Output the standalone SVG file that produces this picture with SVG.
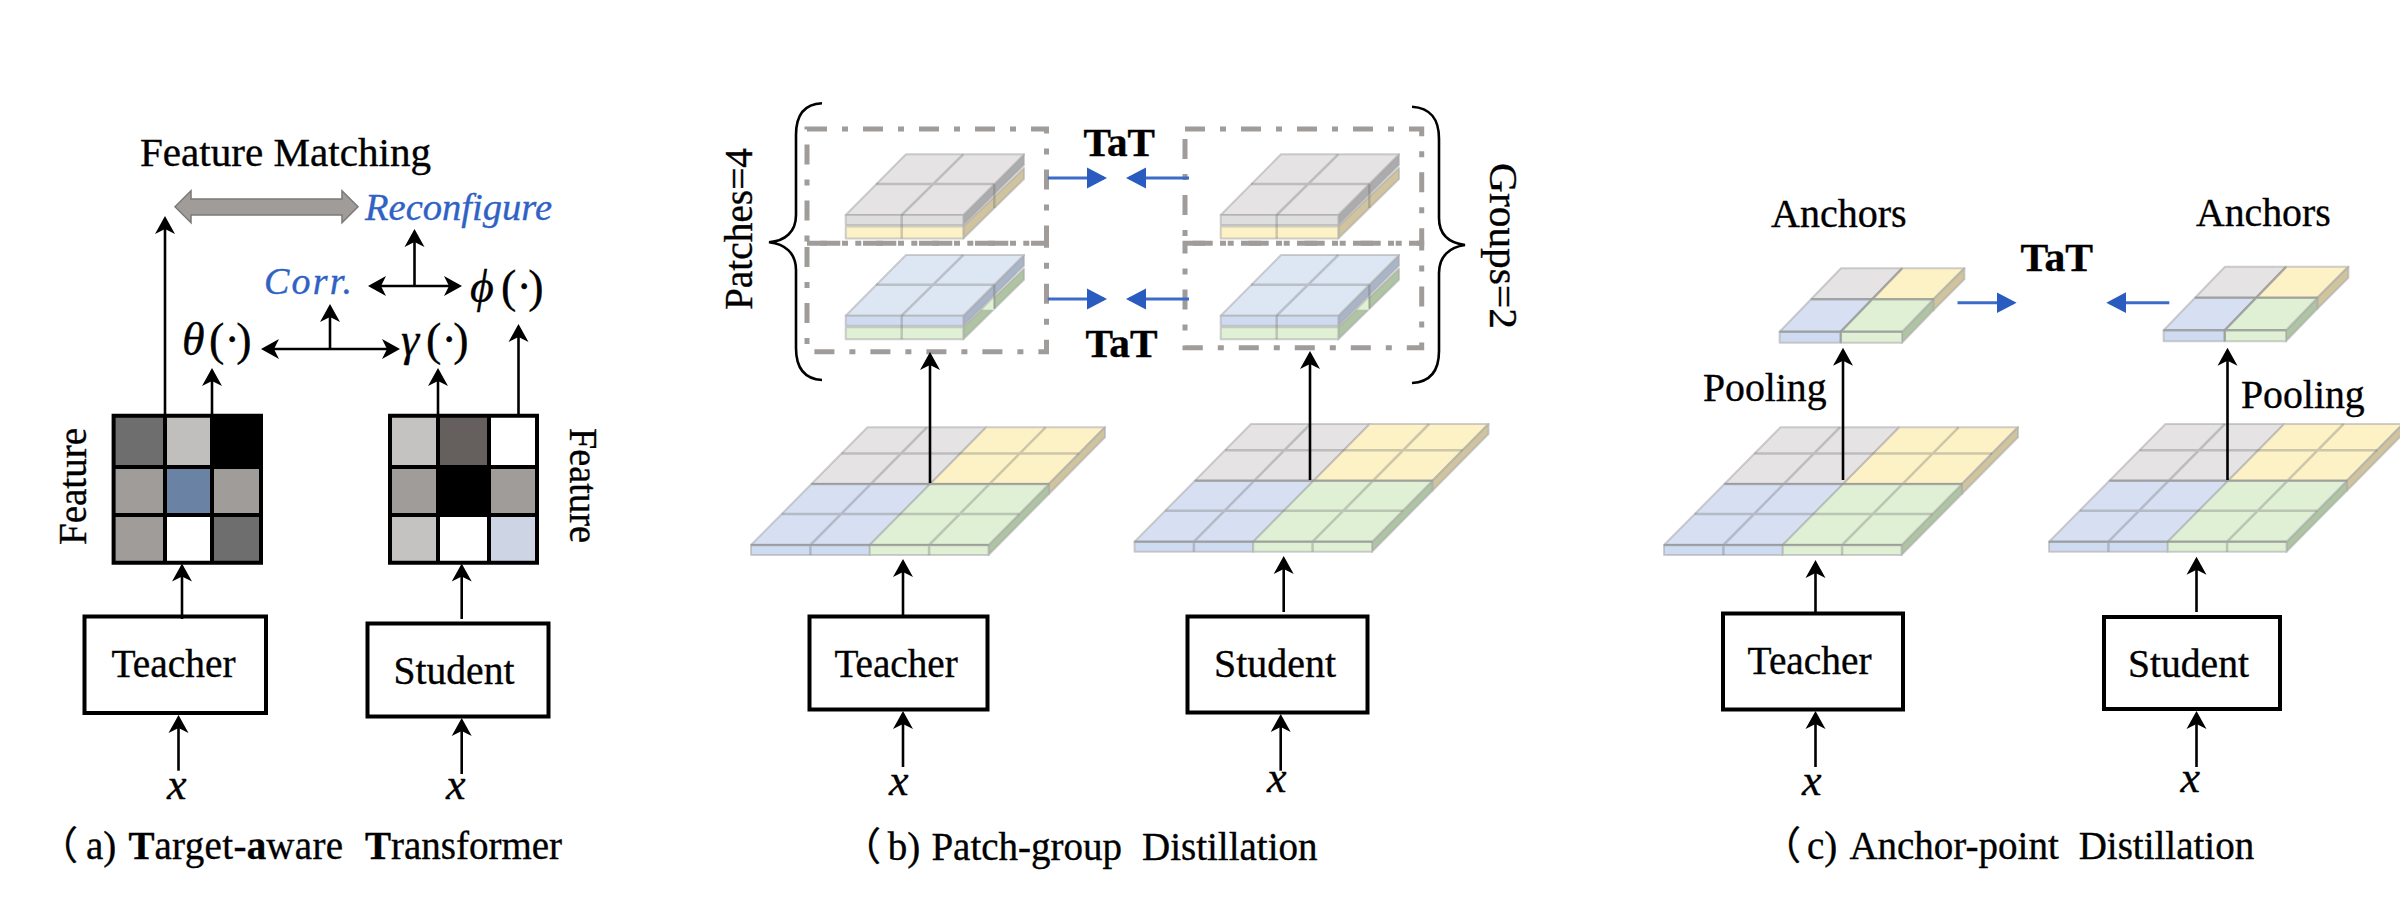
<svg xmlns="http://www.w3.org/2000/svg" width="2400" height="910" viewBox="0 0 2400 910">
<style>
text{font-family:"Liberation Serif","Noto Sans CJK SC",serif;fill:#000;font-size:39px;stroke:#000;stroke-width:.35}
.i{font-style:italic}
.x{font-style:italic;font-size:44px}
.m{font-size:46px}
.b{font-weight:bold}
.blue{fill:#2F62C4;stroke:#2F62C4;font-style:italic;font-size:38px}
.ls3{letter-spacing:.35px}
.box{fill:#fff;stroke:#000;stroke-width:4}
.ln{fill:none;stroke:#000;stroke-width:2.6}
.bl{fill:none;stroke:#3D6CC8;stroke-width:3}
.brace{fill:none;stroke:#000;stroke-width:2.6}
.dash{fill:none;stroke:#A09C9A;stroke-width:5;stroke-dasharray:20 15 6 15}
.f{stroke:#A8A8A8;stroke-opacity:.55;stroke-width:2;stroke-linejoin:round}
.g{fill:none;stroke:#6E6E6E;stroke-opacity:.32;stroke-width:2.5}
.gt{fill:#E5E3E3}.yt{fill:#FDF1C6}.bt{fill:#D6E0F2}.lt{fill:#DFF0D5}.ct{fill:#DDE7F4}
.gf{fill:#DEDEDE}.yf{fill:#FDF1C6}.bf{fill:#CFDBF0}.lf{fill:#DFF0D5}
.gs{fill:#ACACAE}.ys{fill:#CFC49E}.bs{fill:#A9B5C8}.ls{fill:#AEC4A3}
</style>
<defs>
<marker id="ah" markerUnits="userSpaceOnUse" markerWidth="24" markerHeight="24" viewBox="0 -12 24 24" refX="15" refY="0" orient="auto-start-reverse"><path d="M18,0 L0,-10 L5,0 L0,10 Z" fill="#000"/></marker>
<marker id="bh" markerUnits="userSpaceOnUse" markerWidth="24" markerHeight="26" viewBox="0 -13 24 26" refX="17" refY="0" orient="auto"><path d="M20,0 L0,-10.5 L0,10.5 Z" fill="#2A5BBF"/></marker>
<g id="plate">
<polygon class="gt f" points="811.4,484 930.2,484 986.25,427.3 867.5,427.3"/>
<polygon class="yt f" points="930.2,484 1048.9,484 1105,427.3 986.25,427.3"/>
<polygon class="ys f" points="1048.9,484 1105,427.3 1105,437.3 1048.9,494"/>
<polygon class="ls f" points="988.5,545 1048.9,484 1048.9,494 988.5,555"/>
<polygon class="bt f" points="751,545 869.75,545 930.15,484 811.4,484"/>
<polygon class="lt f" points="869.75,545 988.5,545 1048.9,484 930.15,484"/>
<rect class="bf f" x="751" y="545" width="118.75" height="10"/>
<rect class="lf f" x="869.75" y="545" width="118.75" height="10"/>
<path class="g" d="M781.7,514H1019.2M841.6,453.5H1079.1M811.4,484H1048.9M810.4,545L926.9,427.3M929.1,545L1045.6,427.3M810.4,545V555M929.1,545V555M751,545H988.5"/>
</g>
<g id="anchor">
<polygon class="gt f" points="1811,299.3 1872.2,299.3 1902.2,268.3 1841,268.3"/>
<polygon class="yt f" points="1872.2,299.3 1933.4,299.3 1964.4,268.3 1902.2,268.3"/>
<polygon class="ys f" points="1933.4,299.3 1964.4,268.3 1964.4,279.3 1933.4,310.3"/>
<polygon class="ls f" points="1902,331.7 1933.4,299.3 1933.4,310.3 1902,342.7"/>
<polygon class="bt f" points="1779.6,331.7 1840.8,331.7 1872.2,299.3 1811,299.3"/>
<polygon class="lt f" points="1840.8,331.7 1902,331.7 1933.4,299.3 1872.2,299.3"/>
<rect class="bf f" x="1779.6" y="331.7" width="61.2" height="11"/>
<rect class="lf f" x="1840.8" y="331.7" width="61.2" height="11"/>
<path class="g" d="M1811,299.3H1933.4M1779.6,331.7H1902M1840.8,331.7L1902.2,268.3M1840.8,331.7V342.7"/>
</g>
<g id="stackgy">
<polygon class="ys f" points="963.3,226.5 1024,168 1024,179 963.3,238.5"/>
<rect class="yf f" x="845.7" y="226.5" width="117.6" height="12"/>
<polygon class="gs f" points="963.3,215 1024,154.3 1024,165 963.3,225"/>
<polygon class="gt f" points="906,154.3 1024,154.3 963.3,215 845.7,215"/>
<rect class="gf f" x="845.7" y="215" width="117.6" height="10"/>
<path class="g" d="M876,184H994.3M901.7,215L963.3,154.3M901.7,215V238.5M994.3,184V208"/>
</g>
<g id="stackbg">
<polygon class="ls f" points="963.3,226.5 1024,168 1024,179 963.3,238.5"/>
<polygon class="lf" points="982,209 994,197 994,209"/>
<rect class="lf f" x="845.7" y="226.5" width="117.6" height="12"/>
<polygon class="bs f" points="963.3,215 1024,154.3 1024,165 963.3,225"/>
<polygon class="ct f" points="906,154.3 1024,154.3 963.3,215 845.7,215"/>
<rect class="bf f" x="845.7" y="215" width="117.6" height="10"/>
<path class="g" d="M876,184H994.3M901.7,215L963.3,154.3M901.7,215V238.5M994.3,184V208"/>
</g>
</defs>
<rect width="2400" height="910" fill="#fff"/>

<g id="panel-a">
<g id="a-title"><text x="140" y="165.7" textLength="291" lengthAdjust="spacingAndGlyphs">Feature Matching</text></g>
<g id="a-match"><path d="M175,206.7L191,190.7V199H342V190.7L358,206.7L342,222.7V215H191V222.7Z" fill="#A09C9A" stroke="#7C7877" stroke-width="1.5"/></g>
<g id="a-reconfigure"><text class="blue" x="365" y="220" textLength="187" lengthAdjust="spacingAndGlyphs">Reconfigure</text></g>
<g id="a-corr"><text class="blue" x="264" y="294" textLength="88">Corr.</text></g>
<g id="a-theta"><text class="m" y="355"><tspan class="i" x="182">θ</tspan><tspan x="209">(</tspan><tspan x="224.5">·</tspan><tspan x="236.2">)</tspan></text></g>
<g id="a-gamma"><text class="m" y="355"><tspan class="i" x="401">γ</tspan><tspan x="426">(</tspan><tspan x="441.5">·</tspan><tspan x="453.2">)</tspan></text></g>
<g id="a-phi"><text class="m" y="302"><tspan class="i" x="470">ϕ</tspan><tspan x="501">(</tspan><tspan x="516.5">·</tspan><tspan x="528.2">)</tspan></text></g>
<g id="a-feature-t">
<rect x="113.6" y="415.7" width="51.4" height="51.3" fill="#6E6E6E"/><rect x="165" y="415.7" width="47" height="51.3" fill="#C0BFBD"/><rect x="212" y="415.7" width="49" height="51.3" fill="#000"/>
<rect x="113.6" y="467" width="51.4" height="48" fill="#A09C9A"/><rect x="165" y="467" width="47" height="48" fill="#6A83A4"/><rect x="212" y="467" width="49" height="48" fill="#A09C9A"/>
<rect x="113.6" y="515" width="51.4" height="47.7" fill="#A09C9A"/><rect x="165" y="515" width="47" height="47.7" fill="#fff"/><rect x="212" y="515" width="49" height="47.7" fill="#6E6E6E"/>
<path fill="none" stroke="#000" stroke-width="4" d="M113.6,415.7H261V562.7H113.6ZM165,415.7V562.7M212,415.7V562.7M113.6,467H261M113.6,515H261"/>
<text transform="translate(86,545) rotate(-90)" textLength="117" lengthAdjust="spacingAndGlyphs">Feature</text>
</g>
<g id="a-feature-s">
<rect x="390" y="415.7" width="48" height="51.3" fill="#C4C3C1"/><rect x="438" y="415.7" width="51" height="51.3" fill="#655F5E"/><rect x="489" y="415.7" width="48" height="51.3" fill="#fff"/>
<rect x="390" y="467" width="48" height="48" fill="#A09C9A"/><rect x="438" y="467" width="51" height="48" fill="#000"/><rect x="489" y="467" width="48" height="48" fill="#A09C9A"/>
<rect x="390" y="515" width="48" height="47.7" fill="#C4C3C1"/><rect x="438" y="515" width="51" height="47.7" fill="#fff"/><rect x="489" y="515" width="48" height="47.7" fill="#CDD5E4"/>
<path fill="none" stroke="#000" stroke-width="4" d="M390,415.7H537V562.7H390ZM438,415.7V562.7M489,415.7V562.7M390,467H537M390,515H537"/>
<text transform="translate(570,428) rotate(90)" textLength="115" lengthAdjust="spacingAndGlyphs">Feature</text>
</g>
<g id="a-teacher"><rect class="box" x="84.5" y="616.5" width="181.5" height="96.5"/><text x="111.5" y="676.7" textLength="124" lengthAdjust="spacingAndGlyphs">Teacher</text></g>
<g id="a-student"><rect class="box" x="367.5" y="623.5" width="181" height="93"/><text x="393.5" y="684" textLength="121" lengthAdjust="spacingAndGlyphs">Student</text></g>
<g id="a-x-t"><text class="x" x="167" y="799">x</text></g>
<g id="a-x-s"><text class="x" x="446" y="799">x</text></g>
<g id="a-caption"><text y="859"><tspan x="39">（</tspan><tspan x="86">a)</tspan><tspan x="128.4" class="b">T</tspan><tspan class="ls3">arget-</tspan><tspan class="b">a</tspan><tspan class="ls3">ware</tspan><tspan x="365" class="b">T</tspan><tspan>ransformer</tspan></text></g>
</g>

<g id="panel-b">
<g id="b-groups">
<rect class="dash" x="807" y="129" width="239.5" height="114.3"/>
<rect class="dash" x="807" y="243.3" width="239.5" height="108.4"/>
<rect class="dash" x="1185" y="129" width="236.7" height="114.3"/>
<rect class="dash" x="1185" y="243.3" width="236.7" height="104.4"/>
</g>
<g id="b-stack-t1"><use href="#stackgy"/></g>
<g id="b-stack-t2"><use href="#stackbg" transform="translate(0,100.7)"/></g>
<g id="b-stack-s1"><use href="#stackgy" transform="translate(375,0)"/></g>
<g id="b-stack-s2"><use href="#stackbg" transform="translate(375,100.7)"/></g>
<g id="b-brace-l"><path class="brace" d="M822,103.3C805,104 796,114 796,135V215C796,232 785,241 769,242.3C785,244 796,253 796,270V348C796,369 805,379 822,380"/></g>
<g id="b-brace-r"><path class="brace" d="M1412,106.7C1430,108 1439,118 1439,139V218C1439,235 1450,243 1465,245C1450,247 1439,256 1439,273V351C1439,372 1430,382 1412,383"/></g>
<g id="b-patches"><text transform="translate(752,310) rotate(-90)" textLength="162" lengthAdjust="spacingAndGlyphs">Patches=4</text></g>
<g id="b-groups-label"><text transform="translate(1490,163) rotate(90)" textLength="166" lengthAdjust="spacingAndGlyphs">Groups=2</text></g>
<g id="b-tat1"><text class="b" x="1083.4" y="155.7" textLength="71.6" lengthAdjust="spacingAndGlyphs">TaT</text></g>
<g id="b-tat2"><text class="b" x="1085.5" y="357" textLength="72" lengthAdjust="spacingAndGlyphs">TaT</text></g>
<g id="b-plate-t"><use href="#plate"/></g>
<g id="b-plate-s"><use href="#plate" transform="translate(383.5,-3.3)"/></g>
<g id="b-teacher"><rect class="box" x="809.5" y="616.5" width="178" height="93"/><text x="834.4" y="676.7" textLength="123.4" lengthAdjust="spacingAndGlyphs">Teacher</text></g>
<g id="b-student"><rect class="box" x="1187.5" y="616.5" width="180" height="96"/><text x="1214" y="676.7" textLength="122" lengthAdjust="spacingAndGlyphs">Student</text></g>
<g id="b-x-t"><text class="x" x="889" y="795">x</text></g>
<g id="b-x-s"><text class="x" x="1267" y="792">x</text></g>
<g id="b-caption"><text y="860"><tspan x="842">（</tspan><tspan x="887.7">b)</tspan><tspan x="931.4">Patch-group</tspan><tspan x="1142">Distillation</tspan></text></g>
</g>

<g id="panel-c">
<g id="c-plate-t"><use href="#plate" transform="translate(913,0)"/></g>
<g id="c-plate-s"><use href="#plate" transform="translate(1298,-3.3)"/></g>
<g id="c-anchor-t"><use href="#anchor"/></g>
<g id="c-anchor-s"><use href="#anchor" transform="translate(384,-1.5)"/></g>
<g id="c-anchors-t"><text x="1771" y="226.7" textLength="135.6" lengthAdjust="spacingAndGlyphs">Anchors</text></g>
<g id="c-anchors-s"><text x="2196" y="226" textLength="134.7" lengthAdjust="spacingAndGlyphs">Anchors</text></g>
<g id="c-tat"><text class="b" x="2020.5" y="270.7" textLength="72.5" lengthAdjust="spacingAndGlyphs">TaT</text></g>
<g id="c-pool-t"><text x="1703" y="401" textLength="123.6" lengthAdjust="spacingAndGlyphs">Pooling</text></g>
<g id="c-pool-s"><text x="2241" y="407.7" textLength="123.7" lengthAdjust="spacingAndGlyphs">Pooling</text></g>
<g id="c-teacher"><rect class="box" x="1723" y="613.5" width="180" height="96"/><text x="1747.6" y="674" textLength="124" lengthAdjust="spacingAndGlyphs">Teacher</text></g>
<g id="c-student"><rect class="box" x="2104" y="617" width="176" height="92"/><text x="2128" y="677" textLength="121" lengthAdjust="spacingAndGlyphs">Student</text></g>
<g id="c-x-t"><text class="x" x="1802" y="795">x</text></g>
<g id="c-x-s"><text class="x" x="2180.5" y="791.7">x</text></g>
<g id="c-caption"><text y="859"><tspan x="1762">（</tspan><tspan x="1807">c)</tspan><tspan x="1849.4">Anchor-point</tspan><tspan x="2078.7">Distillation</tspan></text></g>
</g>

<g id="connectors">
<path class="ln" marker-end="url(#ah)" d="M165,416V219"/>
<path class="ln" marker-end="url(#ah)" d="M212,416V371"/>
<path class="ln" marker-end="url(#ah)" d="M438,416V371"/>
<path class="ln" marker-end="url(#ah)" d="M518.5,416V327"/>
<path class="ln" marker-start="url(#ah)" marker-end="url(#ah)" d="M264,349H397"/>
<path class="ln" marker-end="url(#ah)" d="M330,349V307"/>
<path class="ln" marker-start="url(#ah)" marker-end="url(#ah)" d="M371,286H459"/>
<path class="ln" marker-end="url(#ah)" d="M414.5,286V232"/>
<path class="ln" marker-end="url(#ah)" d="M182,619V566.5"/>
<path class="ln" marker-end="url(#ah)" d="M461.7,619V566.5"/>
<path class="ln" marker-end="url(#ah)" d="M178.5,770.7V718"/>
<path class="ln" marker-end="url(#ah)" d="M461.7,774V721"/>
<path class="ln" marker-end="url(#ah)" d="M930,483V355"/>
<path class="ln" marker-end="url(#ah)" d="M1310,480V354"/>
<path class="ln" marker-end="url(#ah)" d="M903,615V562"/>
<path class="ln" marker-end="url(#ah)" d="M1283.7,612V559"/>
<path class="ln" marker-end="url(#ah)" d="M903,767V714"/>
<path class="ln" marker-end="url(#ah)" d="M1280.7,770.7V717"/>
<path class="ln" marker-end="url(#ah)" d="M1843,480V350.7"/>
<path class="ln" marker-end="url(#ah)" d="M2227.5,480V350.7"/>
<path class="ln" marker-end="url(#ah)" d="M1815.5,615V563"/>
<path class="ln" marker-end="url(#ah)" d="M2196.5,612V559.7"/>
<path class="ln" marker-end="url(#ah)" d="M1815.5,767V714"/>
<path class="ln" marker-end="url(#ah)" d="M2196.5,767V714"/>
<path class="bl" marker-end="url(#bh)" d="M1047.8,178H1104"/>
<path class="bl" marker-end="url(#bh)" d="M1189,178H1129"/>
<path class="bl" marker-end="url(#bh)" d="M1047.8,299H1104"/>
<path class="bl" marker-end="url(#bh)" d="M1189,299H1129"/>
<path class="bl" marker-end="url(#bh)" d="M1957.5,302.7H2013.6"/>
<path class="bl" marker-end="url(#bh)" d="M2169.3,302.7H2109.3"/>
</g>
</svg>
